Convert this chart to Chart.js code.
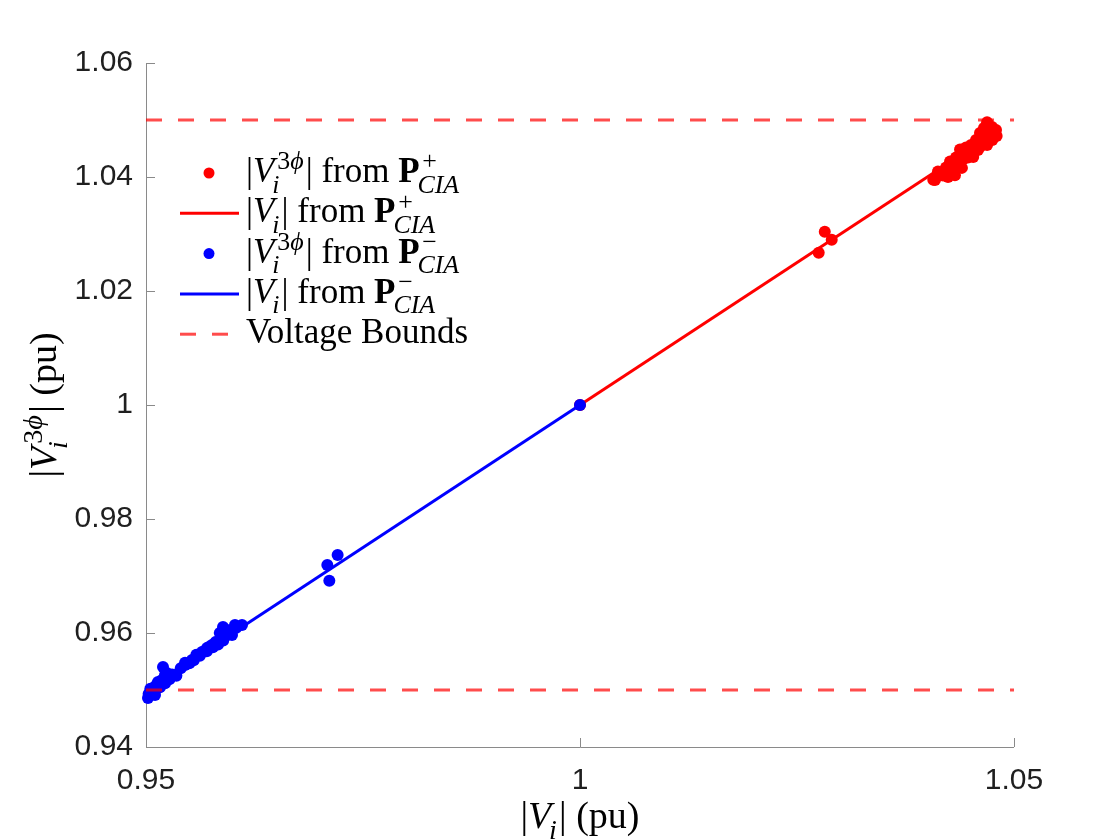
<!DOCTYPE html>
<html><head><meta charset="utf-8">
<script src="https://cdn.jsdelivr.net/npm/chart.js@4.4.0/dist/chart.umd.min.js"></script>
<style>html,body{margin:0;padding:0;background:#fff}#wrap{width:1120px;height:840px;position:relative}</style>
</head><body><div id="wrap"><canvas id="c"></canvas></div>
<script>
// ---- data ----
const xTicks = [0.95, 1, 1.05];
const yTicks = [0.94, 0.96, 0.98, 1, 1.02, 1.04, 1.06];
// P+ : |V_i| (x) and |V_i^3phi| (y)
const plusV  = [1.0000, 1.0275, 1.0282, 1.0290,
  1.0407, 1.0415, 1.0424, 1.0426, 1.0432, 1.0435, 1.0440, 1.0444, 1.0449, 1.0453, 1.0457, 1.0461, 1.0464, 1.0467, 1.0469, 1.0469, 1.0472, 1.0475, 1.0478, 1.0480,
  1.04090, 1.04124, 1.04182, 1.04217, 1.04263, 1.04286, 1.04332, 1.04355, 1.04378, 1.04412, 1.04447, 1.04470, 1.04505, 1.04528, 1.04562, 1.04585, 1.04608, 1.04631, 1.04654, 1.04677, 1.04700, 1.04724, 1.04747, 1.04770, 1.04793, 1.04643, 1.04551];
const plusV3 = [1.0000, 1.0267, 1.0304, 1.0290,
  1.0395, 1.0404, 1.0400, 1.0412, 1.0403, 1.0426, 1.0416, 1.0435, 1.0444, 1.0435, 1.0461, 1.0453, 1.0474, 1.0479, 1.0456, 1.0496, 1.0482, 1.0465, 1.0477, 1.0472,
  1.03947, 1.04096, 1.04026, 1.04167, 1.04272, 1.04096, 1.04342, 1.04184, 1.04482, 1.04307, 1.04518, 1.04342, 1.04561, 1.04421, 1.04649, 1.04474, 1.04772, 1.04579, 1.04860, 1.04702, 1.04930, 1.04789, 1.04877, 1.04737, 1.04825, 1.04649, 1.04561];
// P- : |V_i| (x) and |V_i^3phi| (y)
const minusV  = [1.0000, 0.97208, 0.97089, 0.97112,
  0.95023, 0.95046, 0.95104, 0.95081, 0.95138, 0.95196, 0.95219, 0.95276, 0.95311, 0.95449, 0.95530, 0.95588, 0.95645, 0.95703, 0.95760, 0.95818, 0.95876, 0.95887, 0.95933, 0.95991, 0.96025, 0.96106,
  0.9503, 0.9505, 0.9510, 0.9512, 0.9516, 0.9518, 0.9522, 0.9524, 0.9527, 0.9530, 0.9535, 0.9540, 0.9545, 0.9550, 0.9555, 0.9558, 0.9562, 0.9566, 0.9570, 0.9573, 0.9577, 0.9580, 0.9583, 0.9586, 0.9589, 0.9592, 0.9596, 0.9600, 0.9604, 0.9585, 0.9590];
const minusV3 = [1.0000, 0.97368, 0.97193, 0.96918,
  0.94860, 0.94947, 0.94912, 0.95035, 0.95140, 0.95404, 0.95263, 0.95211, 0.95263, 0.95439, 0.95526, 0.95614, 0.95667, 0.95737, 0.95789, 0.95842, 0.95912, 0.96105, 0.96018, 0.95965, 0.96140, 0.96140,
  0.9493, 0.9502, 0.9498, 0.9509, 0.9505, 0.9517, 0.9512, 0.9530, 0.9519, 0.9527, 0.9525, 0.9538, 0.9548, 0.9547, 0.9552, 0.9562, 0.9560, 0.9567, 0.9568, 0.9576, 0.9575, 0.9584, 0.9580, 0.9590, 0.9587, 0.9595, 0.9600, 0.9606, 0.9609, 0.9600, 0.9608];
const boundLevels = [0.95, 1.05];
const boundRange = [0.95, 1.05];

// ---- rich-text labels (LaTeX-like) ----
const SERIF = '"Liberation Serif","Times New Roman",serif';
const vi3 = [{r:[['|','n'],['V','i']]},{sup:[['3','n'],['ϕ','i']],sub:[['i','i']]},{r:[['|','n']]}];
const vi  = [{r:[['|','n'],['V','i']]},{sub:[['i','i']]},{r:[['|','n']]}];
const pPlus  = [{r:[[' from ','n'],['P','b']]},{sup:[['+','n']],sub:[['CIA','i']]}];
const pMinus = [{r:[[' from ','n'],['P','b']]},{sup:[['−','n']],sub:[['CIA','i']]}];
const legendLabels = [
  vi3.concat(pPlus),
  vi.concat(pPlus),
  vi3.concat(pMinus),
  vi.concat(pMinus),
  [{r:[['Voltage Bounds','n']]}]
];
const xTitle = vi.concat([{r:[[' (pu)','n']]}]);
const yTitle = vi3.concat([{r:[[' (pu)','n']]}]);

function fnt(st, size){ return (st==='i'?'italic ':st==='b'?'bold ':'') + size + 'px ' + SERIF; }
function runs(ctx, rs, x, y, size, draw){
  for (const [t, st] of rs){ ctx.font = fnt(st, size); if (draw) ctx.fillText(t, x, y); x += ctx.measureText(t).width; }
  return x;
}
function rich(ctx, segs, x, y, size, draw){
  for (const s of segs){
    if (s.r) { x = runs(ctx, s.r, x, y, size, draw); }
    else {
      const ss = size*0.74; let w = 0;
      if (s.sup) w = Math.max(w, runs(ctx, s.sup, x + 0.08*size, y - 0.36*size, ss, draw) - x);
      if (s.sub) w = Math.max(w, runs(ctx, s.sub, x - 0.06*size, y + 0.30*size, ss, draw) - x);
      x += w + 0.06*size;
    }
  }
  return x;
}

const pts = (xs, ys) => xs.map((v, i) => ({x: v, y: ys[i]}));
const diag = xs => [Math.min(...xs), Math.max(...xs)].map(v => ({x: v, y: v}));
const hline = lv => boundRange.map(v => ({x: v, y: lv}));

const RED = '#ff0000', BLUE = '#0000ff', BOUND = 'rgba(255,0,0,0.7)';
const AXIS = '#8a8a8a';

const decor = {
  id: 'decor',
  beforeDatasetsDraw(chart){
    const {ctx, chartArea: a, scales: {x, y}} = chart;
    ctx.save();
    ctx.strokeStyle = AXIS; ctx.lineWidth = 1;
    ctx.beginPath();
    ctx.moveTo(a.left + 0.5, a.top); ctx.lineTo(a.left + 0.5, a.bottom + 0.5); ctx.lineTo(a.right, a.bottom + 0.5);
    for (const v of xTicks){ const p = Math.round(x.getPixelForValue(v)) + 0.5; ctx.moveTo(p, a.bottom); ctx.lineTo(p, a.bottom - 9); }
    for (const v of yTicks){ const p = Math.round(y.getPixelForValue(v)) + 0.5; ctx.moveTo(a.left, p); ctx.lineTo(a.left + 9, p); }
    ctx.stroke();
    ctx.restore();
  },
  afterDraw(chart){
    const {ctx, chartArea: a} = chart;
    const ds = chart.data.datasets;
    ctx.save();
    ctx.fillStyle = '#000'; ctx.textBaseline = 'alphabetic';
    // legend
    const base0 = 182, step = 40.3, tx = 246, size = 35;
    const kinds = [[ds[0],'dot'],[ds[1],'line'],[ds[2],'dot'],[ds[3],'line'],[ds[4],'dash']];
    kinds.forEach(([d, k], i) => {
      const by = base0 + i*step, my = by - 9;
      if (k === 'dot'){ ctx.fillStyle = d.backgroundColor; ctx.beginPath(); ctx.arc(209, my, 5.5, 0, Math.PI*2); ctx.fill(); }
      else { ctx.strokeStyle = d.borderColor; ctx.lineWidth = 3; ctx.setLineDash(k==='dash'?[16,16]:[]); ctx.beginPath(); ctx.moveTo(180, my); ctx.lineTo(239, my); ctx.stroke(); ctx.setLineDash([]); }
      ctx.fillStyle = '#000';
      rich(ctx, legendLabels[i], tx, by, size, true);
    });
    // axis titles
    const ts = 38;
    const xw = rich(ctx, xTitle, 0, 0, ts, false);
    rich(ctx, xTitle, (a.left + a.right)/2 - xw/2, 828, ts, true);
    const yw = rich(ctx, yTitle, 0, 0, ts, false);
    ctx.translate(56, 405); ctx.rotate(-Math.PI/2);
    rich(ctx, yTitle, -yw/2, 0, ts, true);
    ctx.restore();
  }
};

const fmt = v => String(Math.round(v*100)/100);

new Chart(document.getElementById('c'), {
  type: 'scatter',
  data: { datasets: [
    {label:'P+ points', data: pts(plusV, plusV3), backgroundColor: RED, borderWidth: 0, pointRadius: 6, pointHoverRadius: 6, order: 5, clip: false},
    {label:'P+ line', data: diag(plusV), showLine: true, borderColor: RED, borderWidth: 3, pointRadius: 0, order: 4},
    {label:'P- points', data: pts(minusV, minusV3), backgroundColor: BLUE, borderWidth: 0, pointRadius: 6, pointHoverRadius: 6, order: 3, clip: false},
    {label:'P- line', data: diag(minusV), showLine: true, borderColor: BLUE, borderWidth: 3, pointRadius: 0, order: 2},
    {label:'Lower bound', data: hline(boundLevels[0]), showLine: true, borderColor: BOUND, borderWidth: 3, borderDash: [16,16], pointRadius: 0, order: 1},
    {label:'Upper bound', data: hline(boundLevels[1]), showLine: true, borderColor: BOUND, borderWidth: 3, borderDash: [16,16], pointRadius: 0, order: 1}
  ]},
  options: {
    responsive: true, maintainAspectRatio: false, animation: false, devicePixelRatio: 1,
    layout: { padding: { top: 63, right: 106, left: 0, bottom: 0 } },
    plugins: { legend: { display: false }, tooltip: { enabled: false } },
    scales: {
      x: { type: 'linear', min: 0.95, max: 1.05,
        grid: { display: false, drawTicks: false }, border: { display: false },
        afterBuildTicks: s => { s.ticks = xTicks.map(v => ({value: v})); },
        afterFit: s => { s.height = 93; },
        ticks: { padding: 16, color: '#1f1f1f', font: { family: '"Liberation Sans",Arial,sans-serif', size: 30 }, callback: fmt, maxRotation: 0 } },
      y: { type: 'linear', min: 0.94, max: 1.06,
        grid: { display: false, drawTicks: false }, border: { display: false },
        afterBuildTicks: s => { s.ticks = yTicks.map(v => ({value: v})); },
        afterFit: s => { s.width = 146; },
        ticks: { padding: 13, color: '#1f1f1f', font: { family: '"Liberation Sans",Arial,sans-serif', size: 30 }, callback: fmt } }
    }
  },
  plugins: [decor]
});
</script></body></html>
